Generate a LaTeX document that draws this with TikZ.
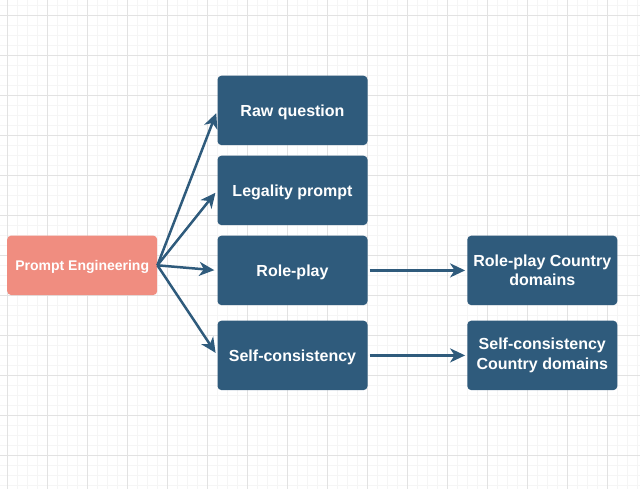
\documentclass[tikz,border=0pt]{standalone}
\usepackage{fontspec}
\setmainfont{Liberation Sans}
\usetikzlibrary{arrows.meta}
\definecolor{stageblue}{HTML}{2F5B7C}
\definecolor{rootsalmon}{HTML}{F08D80}
\definecolor{gridmajor}{HTML}{E2E2E2}
\definecolor{gridminor}{HTML}{F5F5F5}
\tikzset{
  stage/.style={rectangle,rounded corners=4pt,fill=stageblue,text=white,align=center,
    font=\bfseries\fontsize{16}{19.3}\selectfont,minimum width=150pt,minimum height=69.5pt,inner sep=2pt},
  oneline/.style={text height=11.5pt,text depth=0pt},
  root/.style={stage,oneline,fill=rootsalmon,font=\bfseries\fontsize{14}{16}\selectfont,
    text height=10pt,minimum height=59.5pt},
  flow/.style={draw=stageblue,line width=2.5pt,-{Stealth[length=15pt,width=14pt,inset=4.5pt]}}
}

\begin{document}
\begin{tikzpicture}[x=1pt,y=-1pt]

    % Define the column centres (pixel units, y going down)
    \def\xroot{82.2}    % Prompt Engineering column
    \def\xstage{292.5}  % prompt variants column
    \def\xdom{542.3}    % country domain column

    \useasboundingbox (0,0) rectangle (640,488);

    % -- Background grid --
    \begin{scope}
      \clip (0,0) rectangle (640,488);
      \begin{scope}[shift={(7.3,15)}]
        \draw[gridminor,line width=0.7pt] (-10,-20) grid[step=10pt] (640,480);
        \draw[gridmajor,line width=0.9pt] (-40,-40) grid[step=40pt] (640,480);
      \end{scope}
    \end{scope}

    % -- Boxes --
    \node[root] (prompt) at (\xroot,265.3) {Prompt Engineering};
    \node[stage,oneline] (raw) at (\xstage,110.4) {Raw question};
    \node[stage,oneline] (legal) at (\xstage,190.4) {Legality prompt};
    \node[stage,oneline] (role) at (\xstage,270.4) {Role-play};
    \node[stage,oneline] (self) at (\xstage,355.4) {Self-consistency};
    \node[stage] (roledom) at (\xdom,270.4) {Role-play Country\\domains};
    \node[stage] (selfdom) at (\xdom,355.4) {Self-consistency\\Country domains};

    % -- Fan out from the root --
    \draw[flow,shorten >=3pt] (prompt.east) -- (raw.west);
    \draw[flow,shorten >=3pt] (prompt.east) -- (legal.west);
    \draw[flow,shorten >=3pt] (prompt.east) -- (role.west);
    \draw[flow,shorten >=3pt] (prompt.east) -- (self.west);

    % -- Variants to their country domains --
    \draw[flow,shorten <=2pt,shorten >=2pt] (role.east) -- (roledom.west);
    \draw[flow,shorten <=2pt,shorten >=2pt] (self.east) -- (selfdom.west);

\end{tikzpicture}
\end{document}
